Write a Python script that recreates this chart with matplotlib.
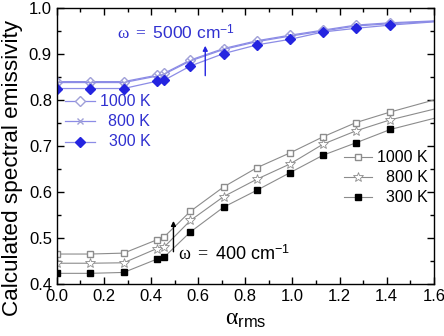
import numpy as np
import matplotlib
matplotlib.use("Agg")
import matplotlib.pyplot as plt
from matplotlib.ticker import MultipleLocator, FormatStrFormatter

plt.rcParams["font.family"] = ["Liberation Sans", "DejaVu Sans"]
plt.rcParams["mathtext.fontset"] = "custom"
plt.rcParams["mathtext.rm"] = "Liberation Serif"
plt.rcParams["mathtext.it"] = "Liberation Serif:italic"
plt.rcParams["mathtext.sf"] = "Liberation Sans"

# roughness parameter (last entry only carries the line to the frame edge)
alpha = [0.0, 0.142, 0.284, 0.425, 0.455, 0.567, 0.708, 0.85, 0.99, 1.13, 1.27, 1.416, 1.6]

# omega = 5000 cm-1
hi_1000 = [0.840, 0.840, 0.840, 0.854, 0.858, 0.887, 0.912, 0.929, 0.941, 0.952, 0.963, 0.968, 0.972]
hi_800 = [0.838, 0.838, 0.838, 0.852, 0.856, 0.885, 0.910, 0.927, 0.939, 0.950, 0.961, 0.966, 0.971]
hi_300 = [0.825, 0.825, 0.825, 0.841, 0.843, 0.874, 0.901, 0.920, 0.932, 0.948, 0.956, 0.963, 0.970]

# omega = 400 cm-1
lo_1000 = [0.465, 0.465, 0.467, 0.496, 0.502, 0.558, 0.611, 0.653, 0.685, 0.720, 0.751, 0.774, 0.800]
lo_800 = [0.445, 0.445, 0.446, 0.477, 0.480, 0.538, 0.590, 0.628, 0.661, 0.704, 0.733, 0.757, 0.780]
lo_300 = [0.423, 0.423, 0.425, 0.454, 0.458, 0.513, 0.567, 0.604, 0.642, 0.680, 0.707, 0.736, 0.760]

temps = ["1000 K", "800 K", "300 K"]

blue_line = "#8c8ce6"
blue = "#2424e0"
blue_text = "#3030d0"
gray = "#8c8c8c"

fig = plt.figure(figsize=(4.44, 3.36), dpi=100)
ax = fig.add_axes([0.128, 0.155, 0.849, 0.821])

marks = list(range(len(alpha) - 1))

hi_styles = [
    dict(marker="D", mfc="white", mec="#a0a0d8", ms=5.5),
    dict(marker="x", mfc="none", mec="#a0a0d8", ms=5),
    dict(marker="D", mfc=blue, mec=blue, ms=5),
]
lo_styles = [
    dict(marker="s", mfc="white", mec=gray, ms=5),
    dict(marker="*", mfc="white", mec=gray, ms=7, mew=0.6),
    dict(marker="s", mfc="black", mec="black", ms=4.5),
]

for vals, st in zip([hi_1000, hi_800, hi_300], hi_styles):
    ax.plot(alpha, vals, color=blue_line, lw=0.9, markevery=marks, **st)
for vals, st in zip([lo_1000, lo_800, lo_300], lo_styles):
    ax.plot(alpha, vals, color=gray, lw=0.8, markevery=marks, **st)

# hand-built legends so the labels can be right-aligned
tr = ax.transAxes
for i, (lab, st) in enumerate(zip(temps, hi_styles)):
    y = 0.663 - i * 0.074
    ax.plot([0.022, 0.062, 0.101], [y, y, y], color=blue_line, lw=0.9,
            transform=tr, markevery=[1], **st)
    ax.text(0.248, y, lab, transform=tr, ha="right", va="center",
            fontsize=11.5, color=blue_text)

for i, (lab, st) in enumerate(zip(temps, lo_styles)):
    y = 0.460 - i * 0.073
    ax.plot([0.763, 0.799, 0.835], [y, y, y], color=gray, lw=0.8,
            transform=tr, markevery=[1], **st)
    ax.text(0.984, y, lab, transform=tr, ha="right", va="center",
            fontsize=11.5, color="black")

# wavenumber annotations
ax.annotate("", xy=(0.63, 0.918), xytext=(0.63, 0.853),
            arrowprops=dict(arrowstyle="-|>", color=blue, lw=1.0,
                            mutation_scale=7, shrinkA=0, shrinkB=0))
ax.text(0.255, 0.946, r"$\mathrm{\omega}$ $\mathrm{=}$ 5000 cm$^{\mathsf{-1}}$",
        color=blue_text, fontsize=12.5, va="center", ha="left")

ax.annotate("", xy=(0.495, 0.537), xytext=(0.495, 0.470),
            arrowprops=dict(arrowstyle="-|>", color="black", lw=1.0,
                            mutation_scale=7, shrinkA=0, shrinkB=0))
ax.text(0.515, 0.464, r"$\mathrm{\omega}$ $\mathrm{=}$ 400 cm$^{\mathsf{-1}}$",
        color="black", fontsize=13, va="center", ha="left")

ax.set_xlim(0, 1.6)
ax.set_ylim(0.4, 1.0)
ax.xaxis.set_major_locator(MultipleLocator(0.2))
ax.xaxis.set_minor_locator(MultipleLocator(0.1))
ax.yaxis.set_major_locator(MultipleLocator(0.1))
ax.yaxis.set_minor_locator(MultipleLocator(0.05))
ax.xaxis.set_major_formatter(FormatStrFormatter("%.1f"))
ax.yaxis.set_major_formatter(FormatStrFormatter("%.1f"))
ax.tick_params(which="both", direction="in", top=True, right=True,
               labelsize=12, width=1.0)
ax.tick_params(which="major", length=5)
ax.tick_params(which="minor", length=3)
for sp in ax.spines.values():
    sp.set_linewidth(1.0)

ax.set_xlabel(r"$\mathrm{\alpha}_{\mathsf{rms}}$", fontsize=17, labelpad=3)
ax.set_ylabel("Calculated spectral emissivity", fontsize=16.2)
ax.yaxis.set_label_coords(-0.09, 0.42)

fig.savefig("out.png", dpi=100)
